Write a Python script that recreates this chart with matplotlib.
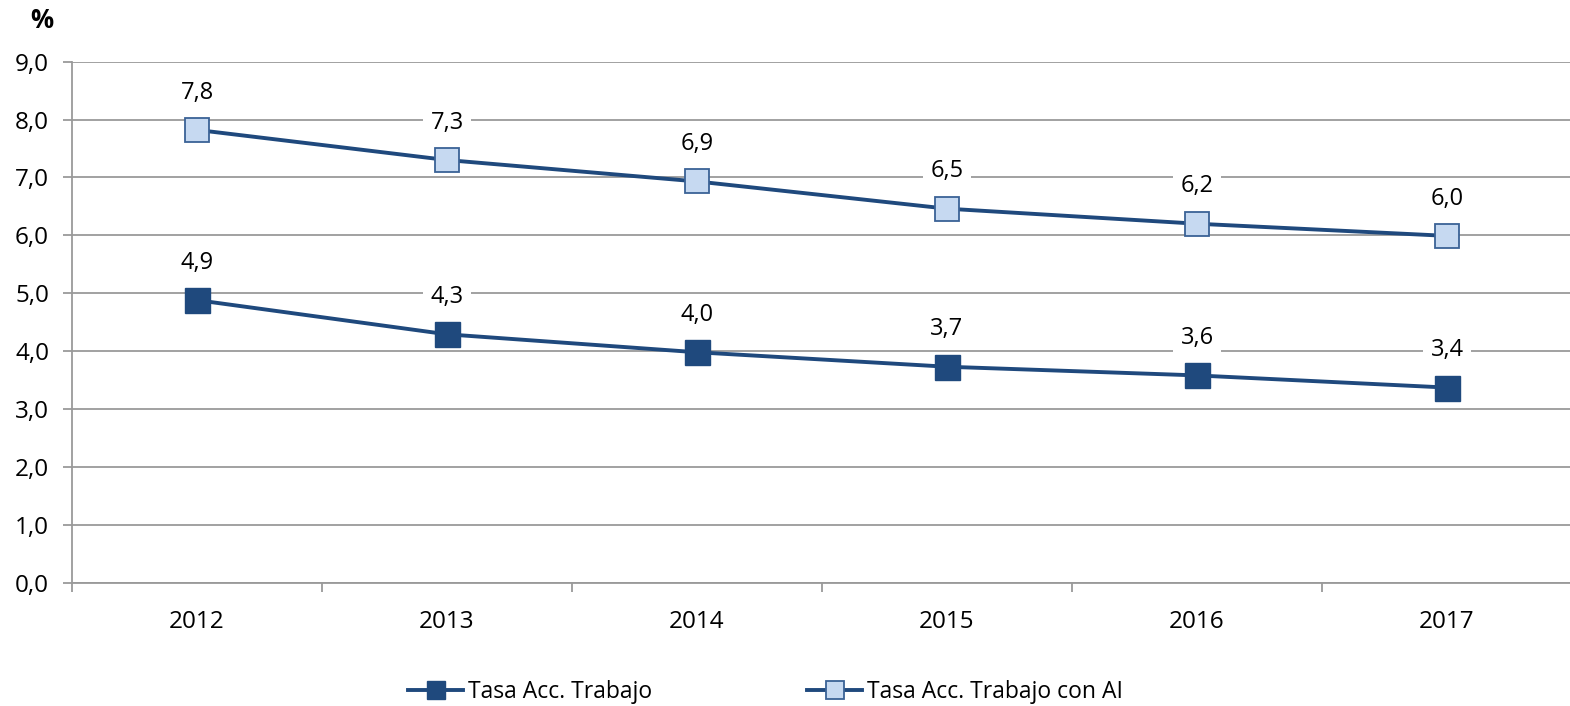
import matplotlib
matplotlib.use("Agg")
import matplotlib.pyplot as plt
from matplotlib.lines import Line2D
from matplotlib.ticker import FixedLocator, NullFormatter

plt.rcParams['font.family'] = ['Open Sans', 'DejaVu Sans']

years = ["2012", "2013", "2014", "2015", "2016", "2017"]
tasa_trabajo = [4.88, 4.29, 3.98, 3.73, 3.58, 3.37]
tasa_trabajo_ai = [7.82, 7.30, 6.93, 6.46, 6.20, 5.99]
series_names = ["Tasa Acc. Trabajo", "Tasa Acc. Trabajo con AI"]
y_ticks = [0, 1, 2, 3, 4, 5, 6, 7, 8, 9]

W, H = 1570, 706
fig = plt.figure(figsize=(W / 100, H / 100), dpi=100)
ax = fig.add_axes([72 / W, 1 - 582.7 / H, 1500 / W, (582.7 - 61.6) / H])

navy = "#1F497D"
light_fill = "#C6D9F1"
light_edge = "#3A6296"
grid_c = "#9A9A9A"
txt_c = "#000000"

x = list(range(len(years)))

ax.plot(x, tasa_trabajo, color=navy, lw=2.8, marker="s", ms=18,
        mfc=navy, mec=navy, mew=1.0, zorder=4, clip_on=False)
ax.plot(x, tasa_trabajo_ai, color=navy, lw=2.8, marker="s", ms=17.5,
        mfc=light_fill, mec=light_edge, mew=1.3, zorder=4, clip_on=False)

for xs, ys in ((x, tasa_trabajo), (x, tasa_trabajo_ai)):
    for xi, yi in zip(xs, ys):
        ax.annotate(f"{yi:.1f}".replace(".", ","), (xi, yi),
                    xytext=(0, 22.5), textcoords="offset points",
                    ha="center", va="baseline", fontsize=17, color=txt_c,
                    bbox=dict(boxstyle="square,pad=0.3", fc="white", ec="none"),
                    zorder=3)

ax.set_xlim(-0.5, len(years) - 0.5)
ax.set_ylim(0, 9)
ax.set_yticks(y_ticks)
ax.set_yticklabels([f"{v:.1f}".replace(".", ",") for v in y_ticks])

ax.xaxis.set_major_locator(FixedLocator([i - 0.5 for i in range(len(years) + 1)]))
ax.xaxis.set_major_formatter(NullFormatter())
ax.xaxis.set_minor_locator(FixedLocator(x))
ax.set_xticklabels(years, minor=True)

ax.tick_params(axis="y", which="major", length=6.5, width=1.3, color=grid_c,
               labelsize=17.5, pad=10, labelcolor=txt_c)
ax.tick_params(axis="x", which="major", length=6.5, width=1.3, color=grid_c)
ax.tick_params(axis="x", which="minor", length=0, labelsize=17.5, pad=20,
               labelcolor=txt_c)

ax.grid(axis="y", color=grid_c, lw=1.3)
ax.set_axisbelow(True)
for s in ("top", "right"):
    ax.spines[s].set_visible(False)
for s in ("left", "bottom"):
    ax.spines[s].set_color(grid_c)
    ax.spines[s].set_linewidth(1.3)

fig.text(42 / W, 1 - 21 / H, "%", ha="center", va="center", fontsize=18.5,
         fontweight="bold", color=txt_c)

h1 = Line2D([], [], color=navy, lw=2.8, marker="s", ms=13.5, mfc=navy, mec=navy)
h2 = Line2D([], [], color=navy, lw=2.8, marker="s", ms=13.5, mfc=light_fill,
            mec=light_edge, mew=1.3)
for h, name, x0 in ((h1, series_names[0], 408), (h2, series_names[1], 807)):
    fig.legend([h], [name], loc="center left",
               bbox_to_anchor=(x0 / W, 1 - 692 / H), frameon=False,
               borderpad=0, borderaxespad=0, handlelength=2.4,
               handletextpad=0.2, fontsize=16.5, labelcolor=txt_c)

fig.savefig("out.png", dpi=100, facecolor="white")
